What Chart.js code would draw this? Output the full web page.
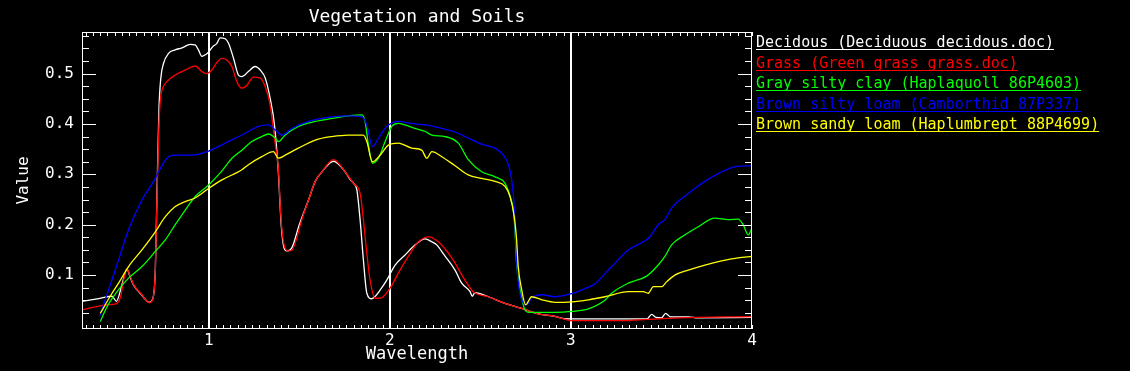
<!DOCTYPE html>
<html><head><meta charset="utf-8">
<script src="https://cdn.jsdelivr.net/npm/chart.js@4.4.1/dist/chart.umd.min.js"></script>
<style>html,body{margin:0;padding:0;background:#000;overflow:hidden}</style>
</head><body>
<canvas id="c" width="1130" height="371"></canvas>
<script>
const chartTitle = 'Vegetation and Soils';
const xAxisTitle = 'Wavelength';
const yAxisTitle = 'Value';
const xTickValues = [1, 2, 3, 4];
const yTickValues = [0.1, 0.2, 0.3, 0.4, 0.5];
const seriesNames = [
  'Decidous (Deciduous decidous.doc)',
  'Grass (Green grass grass.doc)',
  'Gray silty clay (Haplaquoll 86P4603)',
  'Brown silty loam (Camborthid 87P337)',
  'Brown sandy loam (Haplumbrept 88P4699)'
];
const seriesColors = ['#ffffff', '#ff0000', '#00ff00', '#0000ff', '#ffff00'];

// [wavelength, value]
const decidous = [[0.30,0.048],[0.40,0.054],[0.466,0.058],[0.49,0.048],[0.52,0.08],[0.548,0.112],[0.567,0.095],[0.585,0.08],[0.631,0.06],[0.671,0.046],[0.69,0.052],[0.705,0.11],[0.714,0.26],[0.725,0.43],[0.735,0.49],[0.75,0.52],[0.778,0.540],[0.815,0.547],[0.852,0.551],[0.898,0.558],[0.925,0.557],[0.943,0.547],[0.962,0.534],[0.984,0.538],[1.0,0.543],[1.021,0.553],[1.045,0.560],[1.063,0.571],[1.091,0.569],[1.109,0.560],[1.137,0.530],[1.164,0.497],[1.183,0.494],[1.219,0.504],[1.256,0.514],[1.284,0.507],[1.312,0.491],[1.339,0.451],[1.363,0.398],[1.385,0.30],[1.40,0.20],[1.415,0.155],[1.43,0.148],[1.46,0.155],[1.50,0.2],[1.551,0.249],[1.588,0.286],[1.625,0.305],[1.689,0.326],[1.753,0.305],[1.78,0.29],[1.80,0.282],[1.818,0.269],[1.836,0.209],[1.854,0.130],[1.873,0.064],[1.90,0.053],[1.92,0.058],[1.946,0.07],[1.983,0.09],[2.029,0.12],[2.084,0.14],[2.14,0.16],[2.195,0.172],[2.232,0.166],[2.259,0.160],[2.30,0.14],[2.36,0.110],[2.397,0.084],[2.443,0.067],[2.455,0.058],[2.47,0.065],[2.544,0.057],[2.636,0.044],[2.728,0.034],[2.82,0.023],[2.912,0.018],[2.977,0.013],[3.335,0.013],[3.42,0.013],[3.446,0.022],[3.47,0.016],[3.50,0.015],[3.523,0.024],[3.55,0.017],[3.65,0.017],[3.7,0.015],[4.0,0.016]];
const grass = [[0.30,0.031],[0.438,0.041],[0.493,0.044],[0.515,0.06],[0.53,0.09],[0.548,0.112],[0.567,0.097],[0.585,0.081],[0.631,0.061],[0.671,0.045],[0.69,0.051],[0.705,0.11],[0.714,0.25],[0.725,0.40],[0.735,0.455],[0.745,0.471],[0.769,0.484],[0.815,0.497],[0.888,0.510],[0.925,0.515],[0.962,0.504],[0.986,0.500],[1.017,0.507],[1.045,0.522],[1.073,0.530],[1.10,0.527],[1.128,0.514],[1.155,0.484],[1.183,0.471],[1.211,0.477],[1.247,0.493],[1.284,0.491],[1.312,0.474],[1.339,0.438],[1.367,0.36],[1.385,0.309],[1.394,0.243],[1.404,0.19],[1.42,0.155],[1.44,0.148],[1.46,0.150],[1.477,0.163],[1.514,0.21],[1.551,0.249],[1.588,0.286],[1.625,0.305],[1.689,0.329],[1.753,0.305],[1.799,0.282],[1.836,0.262],[1.854,0.21],[1.873,0.143],[1.891,0.09],[1.919,0.054],[1.946,0.054],[2.001,0.074],[2.047,0.104],[2.102,0.137],[2.158,0.166],[2.213,0.176],[2.268,0.166],[2.342,0.134],[2.415,0.090],[2.461,0.067],[2.544,0.057],[2.636,0.044],[2.728,0.034],[2.82,0.023],[2.912,0.018],[2.977,0.011],[3.0,0.0097],[3.3,0.0097],[3.42,0.012],[3.6,0.015],[4.0,0.0177]];
const graySiltyClay = [[0.401,0.008],[0.438,0.037],[0.502,0.071],[0.557,0.094],[0.631,0.117],[0.705,0.147],[0.76,0.170],[0.815,0.200],[0.87,0.229],[0.925,0.256],[0.999,0.279],[1.073,0.307],[1.128,0.332],[1.183,0.348],[1.238,0.365],[1.293,0.375],[1.33,0.380],[1.367,0.372],[1.385,0.365],[1.422,0.378],[1.495,0.395],[1.588,0.405],[1.68,0.411],[1.771,0.416],[1.845,0.418],[1.863,0.405],[1.882,0.358],[1.904,0.322],[1.937,0.332],[1.974,0.365],[2.011,0.395],[2.047,0.401],[2.084,0.398],[2.139,0.391],[2.195,0.385],[2.232,0.378],[2.305,0.375],[2.378,0.362],[2.433,0.329],[2.507,0.305],[2.581,0.295],[2.636,0.282],[2.664,0.256],[2.682,0.229],[2.691,0.19],[2.7,0.124],[2.719,0.071],[2.746,0.031],[2.765,0.026],[2.912,0.026],[3.004,0.028],[3.096,0.033],[3.188,0.05],[3.225,0.064],[3.317,0.084],[3.418,0.098],[3.482,0.12],[3.519,0.137],[3.556,0.160],[3.63,0.18],[3.703,0.196],[3.795,0.213],[3.869,0.21],[3.924,0.211],[3.951,0.2],[3.979,0.18],[4.0,0.193]];
const brownSiltyLoam = [[0.397,0.018],[0.447,0.071],[0.502,0.130],[0.557,0.19],[0.631,0.249],[0.705,0.292],[0.723,0.305],[0.769,0.332],[0.815,0.338],[0.907,0.338],[0.999,0.346],[1.091,0.362],[1.183,0.378],[1.275,0.395],[1.33,0.398],[1.367,0.388],[1.404,0.378],[1.459,0.391],[1.551,0.405],[1.68,0.414],[1.771,0.416],[1.845,0.414],[1.873,0.398],[1.904,0.355],[1.937,0.372],[1.983,0.395],[2.047,0.405],[2.121,0.401],[2.195,0.398],[2.287,0.391],[2.36,0.384],[2.433,0.372],[2.507,0.360],[2.581,0.352],[2.627,0.338],[2.655,0.319],[2.673,0.289],[2.687,0.236],[2.695,0.170],[2.706,0.097],[2.728,0.051],[2.756,0.041],[2.783,0.054],[2.839,0.061],[2.912,0.057],[3.004,0.063],[3.096,0.076],[3.133,0.083],[3.225,0.117],[3.317,0.15],[3.409,0.168],[3.436,0.176],[3.482,0.2],[3.519,0.21],[3.556,0.233],[3.648,0.262],[3.74,0.286],[3.832,0.305],[3.905,0.315],[4.0,0.317]];
const brownSandyLoam = [[0.401,0.024],[0.466,0.064],[0.502,0.084],[0.557,0.117],[0.631,0.15],[0.705,0.186],[0.76,0.216],[0.815,0.236],[0.87,0.246],[0.925,0.253],[0.999,0.272],[1.073,0.289],[1.183,0.309],[1.219,0.319],[1.293,0.335],[1.357,0.345],[1.385,0.332],[1.422,0.338],[1.495,0.352],[1.588,0.368],[1.68,0.375],[1.771,0.378],[1.854,0.378],[1.873,0.365],[1.904,0.325],[1.946,0.338],[1.992,0.358],[2.047,0.362],[2.121,0.352],[2.176,0.348],[2.204,0.332],[2.232,0.345],[2.287,0.335],[2.36,0.317],[2.433,0.299],[2.507,0.292],[2.581,0.286],[2.636,0.276],[2.664,0.256],[2.687,0.216],[2.7,0.17],[2.709,0.117],[2.728,0.071],[2.75,0.041],[2.783,0.057],[2.839,0.051],[2.912,0.046],[3.004,0.047],[3.096,0.051],[3.188,0.057],[3.317,0.067],[3.4,0.067],[3.427,0.064],[3.455,0.077],[3.501,0.077],[3.529,0.087],[3.574,0.1],[3.648,0.11],[3.74,0.12],[3.832,0.128],[3.924,0.134],[4.0,0.137]];

const seriesData = [decidous, grass, graySiltyClay, brownSiltyLoam, brownSandyLoam];
const FONT = '"DejaVu Sans Mono", monospace';

const decor = {
  id: 'decor',
  beforeDraw(chart) {
    const ctx = chart.ctx;
    ctx.save(); ctx.fillStyle = '#000'; ctx.fillRect(0, 0, chart.width, chart.height); ctx.restore();
  },
  afterDraw(chart) {
    const {ctx, chartArea: a, scales: {x, y}} = chart;
    ctx.save();
    ctx.strokeStyle = '#fff'; ctx.lineWidth = 1;
    ctx.strokeRect(a.left + 0.5, a.top + 0.5, a.right - a.left - 1, a.bottom - a.top - 1);
    ctx.beginPath();
    for (let k = 1; k * 0.025 <= y.max; k++) {
      const v = k * 0.025;
      const len = (k % 4 === 0) ? 14 : 7;
      const py = Math.round(y.getPixelForValue(v)) + 0.5;
      ctx.moveTo(a.left, py); ctx.lineTo(a.left + len, py);
      ctx.moveTo(a.right, py); ctx.lineTo(a.right - len, py);
    }
    for (let k = Math.ceil(x.min / 0.04); k * 0.04 <= x.max + 1e-9; k++) {
      const px = Math.round(x.getPixelForValue(k * 0.04)) + 0.5;
      ctx.moveTo(px, a.bottom); ctx.lineTo(px, a.bottom - 4);
      ctx.moveTo(px, a.top); ctx.lineTo(px, a.top + 4);
    }
    ctx.stroke();
    ctx.fillStyle = '#fff';
    ctx.font = '18px ' + FONT;
    ctx.textAlign = 'center'; ctx.textBaseline = 'middle';
    ctx.fillText(chartTitle, (a.left + a.right) / 2, 17);
    ctx.font = '15px ' + FONT;
    ctx.textAlign = 'left'; ctx.textBaseline = 'alphabetic';
    seriesNames.forEach((name, i) => {
      const bx = a.right + 4, by = 47 + i * 20.6;
      ctx.fillStyle = seriesColors[i];
      ctx.fillText(name, bx, by);
      const w = ctx.measureText(name).width;
      ctx.fillRect(bx, Math.round(by) + 2, w, 1);
    });
    ctx.restore();
  }
};

new Chart(document.getElementById('c'), {
  type: 'line',
  data: {
    datasets: seriesData.map((d, i) => ({
      label: seriesNames[i],
      data: d.map(p => ({x: p[0], y: p[1]})),
      borderColor: seriesColors[i],
      backgroundColor: seriesColors[i],
      borderWidth: 1.3,
      pointRadius: 0,
      fill: false,
      cubicInterpolationMode: 'monotone',
      order: 5 - i
    }))
  },
  options: {
    responsive: false, animation: false, devicePixelRatio: 1,
    layout: {padding: {top: 32, right: 378, left: 0, bottom: 0}},
    plugins: {legend: {display: false}, title: {display: false}, tooltip: {enabled: false}},
    scales: {
      x: {
        type: 'linear', min: 0.3, max: 4, position: 'bottom', z: 1,
        afterBuildTicks: s => { s.ticks = xTickValues.map(v => ({value: v})); },
        afterFit: s => { s.height = 42; },
        ticks: {color: '#fff', font: {family: FONT, size: 16}, padding: 2, maxRotation: 0, autoSkip: false, callback: v => String(v)},
        grid: {drawTicks: false, color: c => (c.tick && c.tick.value < 4) ? '#fff' : 'rgba(0,0,0,0)', lineWidth: 2},
        border: {display: false},
        title: {display: true, text: xAxisTitle, color: '#fff', font: {family: FONT, size: 17}, padding: {top: 0, bottom: 6}}
      },
      y: {
        type: 'linear', min: -0.007, max: 0.5825,
        afterBuildTicks: s => { s.ticks = yTickValues.map(v => ({value: v})); },
        afterFit: s => { s.width = 82; },
        ticks: {color: '#fff', font: {family: FONT, size: 16}, padding: 8, callback: v => v.toFixed(1)},
        grid: {display: false, drawTicks: false},
        border: {display: false},
        title: {display: true, text: yAxisTitle, color: '#fff', font: {family: FONT, size: 16}, padding: {top: 14, bottom: 0}}
      }
    }
  },
  plugins: [decor]
});
</script>
</body></html>
